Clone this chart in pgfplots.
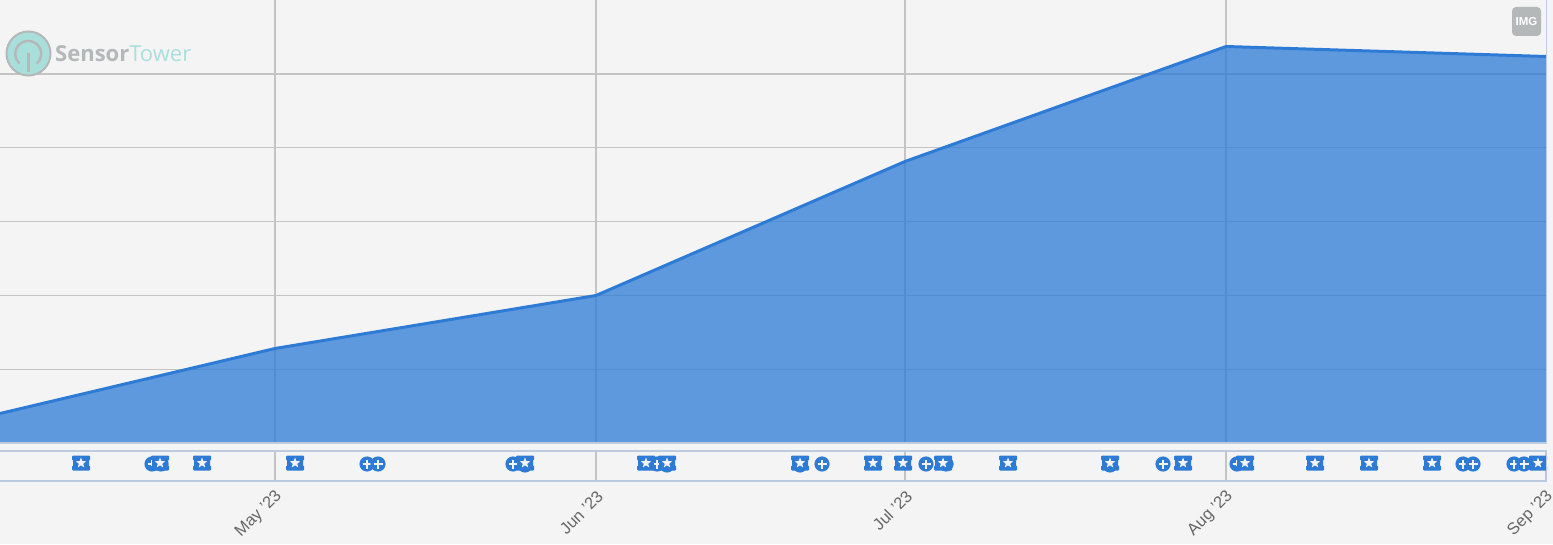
\documentclass[border=0pt]{standalone}
\usepackage{pgfplots}
\pgfplotsset{compat=1.18}
\usepackage{fontspec}
\setmainfont{Liberation Sans}
\newfontfamily\logofont{Open Sans}
\definecolor{bg}{HTML}{F4F4F4}
\definecolor{gridc}{HTML}{C4C4C4}
\definecolor{blue}{HTML}{2E7BD6}
\definecolor{frame}{HTML}{BCCBE0}
\definecolor{lab}{HTML}{666666}
\definecolor{logog}{HTML}{B4B8B8}
\definecolor{logot}{HTML}{A9DFDB}
\newcommand\pp[2]{\pgfqpoint{#1pt}{#2pt}}
\pgfdeclareplotmark{badge}{%
  \pgfsetfillcolor{blue}%
  \pgfpathmoveto{\pp{-8}{7.5}}\pgfpathlineto{\pp{8}{7.5}}\pgfpathlineto{\pp{9}{6.5}}\pgfpathlineto{\pp{9}{3.5}}%
  \pgfpathlineto{\pp{8}{2.5}}\pgfpathlineto{\pp{8}{-2.5}}\pgfpathlineto{\pp{9}{-3.5}}\pgfpathlineto{\pp{9}{-6.5}}%
  \pgfpathlineto{\pp{8}{-7.5}}\pgfpathlineto{\pp{-8}{-7.5}}\pgfpathlineto{\pp{-9}{-6.5}}\pgfpathlineto{\pp{-9}{-3.5}}%
  \pgfpathlineto{\pp{-8}{-2.5}}\pgfpathlineto{\pp{-8}{2.5}}\pgfpathlineto{\pp{-9}{3.5}}\pgfpathlineto{\pp{-9}{6.5}}%
  \pgfpathclose\pgfusepath{fill}%
  \pgfsetfillcolor{bg}%
  \pgfpathmoveto{\pp{0}{5.5}}\pgfpathlineto{\pp{1.35}{1.86}}\pgfpathlineto{\pp{5.23}{1.7}}\pgfpathlineto{\pp{2.19}{-.71}}%
  \pgfpathlineto{\pp{3.23}{-4.45}}\pgfpathlineto{\pp{0}{-2.3}}\pgfpathlineto{\pp{-3.23}{-4.45}}\pgfpathlineto{\pp{-2.19}{-.71}}%
  \pgfpathlineto{\pp{-5.23}{1.7}}\pgfpathlineto{\pp{-1.35}{1.86}}%
  \pgfpathclose\pgfusepath{fill}}
\pgfdeclareplotmark{plusdot}{%
  \pgfsetfillcolor{blue}%
  \pgfpathcircle{\pgfpointorigin}{7.6pt}\pgfusepath{fill}%
  \pgfsetstrokecolor{bg}\pgfsetlinewidth{1.6pt}%
  \pgfpathmoveto{\pp{-4.5}{0}}\pgfpathlineto{\pp{4.5}{0}}\pgfpathmoveto{\pp{0}{-4.5}}\pgfpathlineto{\pp{0}{4.5}}\pgfusepath{stroke}}
\begin{document}
\begin{tikzpicture}[x=1pt,y=1pt]
\path[use as bounding box,fill=bg] (0,0) rectangle (1553,544);
% grid, under the area
\begin{axis}[at={(0pt,101pt)},anchor=south west,scale only axis,width=1546pt,height=443pt,
  xmin=0,xmax=1546,ymin=0,ymax=443,
  axis line style={draw=none},tick style={draw=none},
  xtick={275,596,905,1226},ytick={73.5,147.5,221.5,295.5,369},
  xticklabels={},yticklabels={},
  grid=major,grid style={gridc,line width=1.3pt},
  ]
\end{axis}
% main area
\begin{axis}[at={(0pt,101pt)},anchor=south west,scale only axis,width=1546pt,height=443pt,
  xmin=0,xmax=1546,ymin=0,ymax=443,axis lines=none,
  ]
\addplot[draw=none,fill=blue,fill opacity=.75,forget plot] coordinates {(0,0)(0,29.5)(275,94.5)(596,147.5)(905,281.5)(1226,396.5)(1546,386.5)(1546,0)} \closedcycle;
\addplot[blue,line width=3pt,line join=round] coordinates {(0,29.5)(275,94.5)(596,147.5)(905,281.5)(1226,396.5)(1546,386.5)};
\end{axis}
\draw[frame,line width=1.6pt] (0,101) -- (1546.5,101) -- (1546.5,544);
% event strip
\begin{axis}[at={(0pt,63pt)},anchor=south west,scale only axis,width=1546pt,height=30pt,
  xmin=0,xmax=1546,ymin=0,ymax=30,
  axis line style={draw=none},
  xtick={275,596,905,1226,1546},
  xticklabels={May '23,Jun '23,Jul '23,Aug '23,Sep '23},
  major tick length=0pt,ytick=\empty,
  xmajorgrids,grid style={gridc,line width=1.3pt},
  xticklabel style={rotate=45,anchor=east,font=\fontsize{16.5}{16.5}\selectfont,text=lab,xshift=-2.5pt,yshift=-12pt},
  clip=false,
  ]
\addplot[only marks,mark=plusdot] coordinates {(152,17)(161,17)(367,17)(378,17)(513,17)(525,16)(657,17)(667,16)(800,16)(822,17)(926,17)(946,17)(1110,16)(1163,17)(1237,17)(1463,17)(1473,17)(1514,17)(1524,17)};
\addplot[only marks,mark=badge] coordinates {(81,18)(160,18)(202,18)(295,18)(525,18)(646,18)(667,18)(800,18)(873,18)(903,18)(943,18)(1008,18)(1110,18)(1183,18)(1245,18)(1315,18)(1369,18)(1432,18)(1538,18)};
\end{axis}
\draw[frame,line width=1.8pt] (0,93) -- (1546.5,93) -- (1546.5,63) -- (0,63);
% logo
\fill[logot,draw=logog,line width=2pt] (28.5,490.5) circle (22);
\draw[logog,line width=2.4pt] (19.5,480.5) arc[start angle=228,end angle=-48,radius=13];
\draw[logog,line width=3pt] (28.5,471.5) -- (28.5,490.5);
\node[anchor=west,inner sep=0pt,font=\logofont\fontsize{22}{22}\selectfont] at (55,490.5) {\textcolor{logog}{\textbf{Sensor}}\textcolor{logot}{Tower}};
% export badge
\fill[fill=logog,rounded corners=4pt] (1512,508) rectangle (1541,537);
\node[text=white,inner sep=0pt,font=\bfseries\fontsize{11.5}{12}\selectfont] at (1526.5,522.5) {IMG};
\end{tikzpicture}
\end{document}
